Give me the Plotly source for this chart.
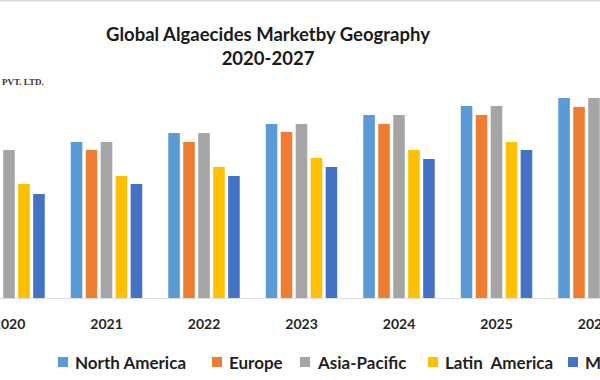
import plotly.graph_objects as go

years = ["2020", "2021", "2022", "2023", "2024", "2025", "2026", "2027"]
series_names = ["North America", "Europe", "Asia-Pacific", "Latin  America", "Middle East & Africa"]
north_america = [14.8, 15.6, 16.5, 17.4, 18.3, 19.2, 20.0, 20.9]
europe = [14.0, 14.8, 15.6, 16.6, 17.4, 18.3, 19.1, 20.0]
asia_pacific = [14.8, 15.6, 16.5, 17.4, 18.3, 19.2, 20.0, 20.9]
latin_america = [11.4, 12.2, 13.1, 14.0, 14.8, 15.6, 16.5, 17.4]
mea = [10.4, 11.4, 12.2, 13.1, 13.9, 14.8, 15.6, 16.5]

values = [north_america, europe, asia_pacific, latin_america, mea]
colors = ["#5B9BD5", "#ED7D31", "#A5A5A5", "#FFC000", "#4472C4"]
legend_x = [58, 212, 300, 428, 568]  # pixel positions of legend swatches

W, H = 600, 380
plot_bottom = 298

fig = go.Figure()
for name, vals, col in zip(series_names, values, colors):
    fig.add_trace(go.Bar(x=years, y=vals, name=name, marker=dict(color=col, line=dict(width=0)),
                         showlegend=False))

font_main = "Lato, 'Open Sans', sans-serif"

fig.update_layout(
    width=W, height=H,
    margin=dict(l=0, r=0, t=0, b=H - plot_bottom, autoexpand=False),
    paper_bgcolor="white", plot_bgcolor="white",
    barmode="group", bargap=0.232, bargroupgap=0.227,
    title=dict(text="Global Algaecides Marketby Geography<br>2020-2027",
               x=268 / W, xanchor="center", xref="paper",
               y=1 - 41 / H, yanchor="top", yref="container",
               font=dict(family=font_main, size=18.5, color="#1a1a1a", weight="bold")),
    xaxis=dict(type="category", range=[-0.0923, 6.0615], showgrid=False, zeroline=False,
               automargin=False,
               showline=True, linecolor="#e0e0e0", linewidth=1, ticks="",
               ticklabelstandoff=13,
               tickfont=dict(family=font_main, size=14, color="#262626", weight="bold")),
    yaxis=dict(range=[0, 29.8], visible=False, automargin=False),
)

# top border line
fig.add_shape(type="line", xref="paper", yref="paper", x0=0, x1=1,
              y0=1, y1=1, line=dict(color="#d9d9d9", width=3))

# watermark fragment
fig.add_annotation(text="<b>PVT. LTD.</b>", xref="paper", yref="paper",
                   x=0, xanchor="left", y=(plot_bottom - 82) / plot_bottom, yanchor="middle",
                   showarrow=False,
                   font=dict(family="'Liberation Serif', serif", size=9, color="#333333"))

# custom legend (the reference legend runs past the right edge)
leg_y = 362
for name, col, lx in zip(series_names, colors, legend_x):
    fig.add_shape(type="rect", xref="paper", yref="paper",
                  x0=lx / W, x1=(lx + 10) / W,
                  y0=(plot_bottom - (leg_y + 5)) / plot_bottom,
                  y1=(plot_bottom - (leg_y - 5)) / plot_bottom,
                  fillcolor=col, line=dict(width=0))
    fig.add_annotation(text="<b>" + name.replace("  ", "&nbsp; ") + "</b>", xref="paper", yref="paper",
                       x=(lx + 15) / W, xanchor="left",
                       y=(plot_bottom - leg_y) / plot_bottom, yanchor="middle",
                       showarrow=False,
                       font=dict(family=font_main, size=17, color="#1f1f1f"))

fig.write_html("out.html", config={"displayModeBar": False},
               post_script="document.body.style.margin='0';")
